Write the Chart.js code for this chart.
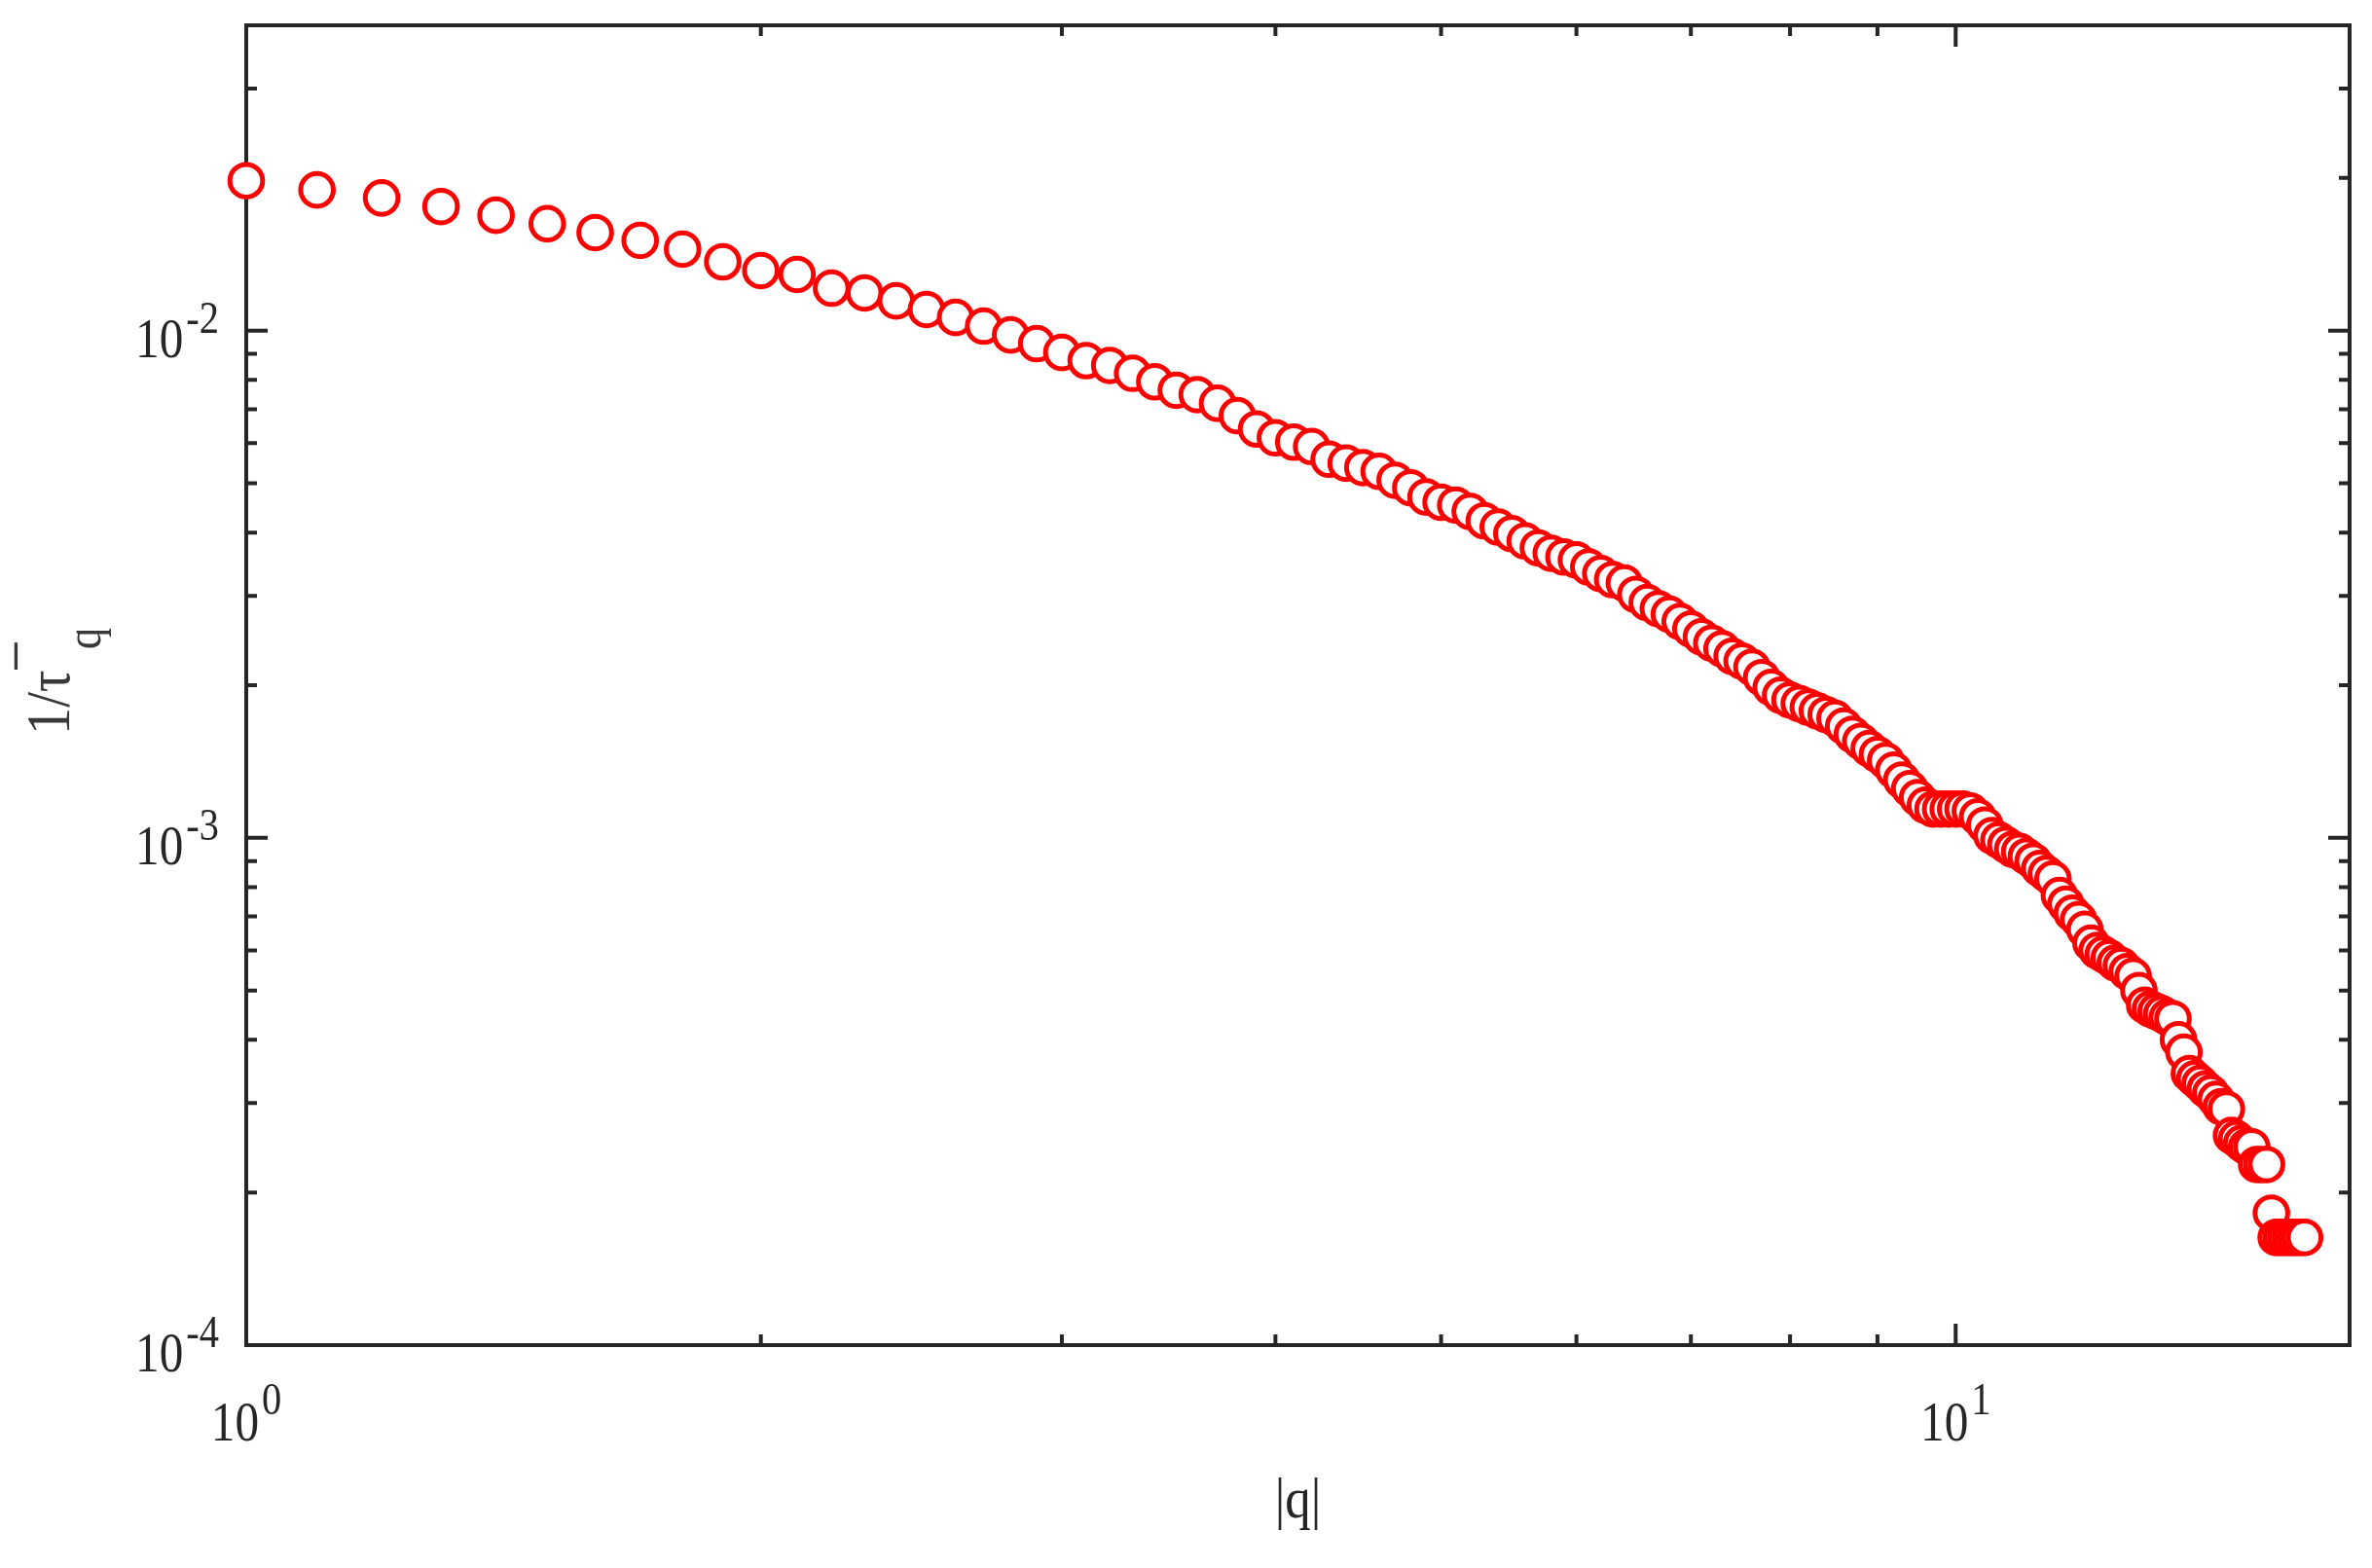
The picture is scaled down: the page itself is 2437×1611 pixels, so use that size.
<!DOCTYPE html>
<html>
<head>
<meta charset="utf-8">
<script src="https://cdn.jsdelivr.net/npm/chart.js@4.4.1/dist/chart.umd.min.js"></script>
<style>
  html, body { margin: 0; padding: 0; background: #ffffff; }
  #wrap { width: 2437px; height: 1611px; position: relative; }
</style>
</head>
<body>
<div id="wrap"><canvas id="chart"></canvas></div>
<script>
// |q| values
const qValues = [
  1.0, 1.1, 1.2, 1.3, 1.4, 1.5, 1.6, 1.7, 1.8, 1.9,
  2.0, 2.1, 2.2, 2.3, 2.4, 2.5, 2.6, 2.7, 2.8, 2.9,
  3.0, 3.1, 3.2, 3.3, 3.4, 3.5, 3.6, 3.7, 3.8, 3.9,
  4.0, 4.1, 4.2, 4.3, 4.4, 4.5, 4.6, 4.7, 4.8, 4.9,
  5.0, 5.1, 5.2, 5.3, 5.4, 5.5, 5.6, 5.7, 5.8, 5.9,
  6.0, 6.1, 6.2, 6.3, 6.4, 6.5, 6.6, 6.7, 6.8, 6.9,
  7.0, 7.1, 7.2, 7.3, 7.4, 7.5, 7.6, 7.7, 7.8, 7.9,
  8.0, 8.1, 8.2, 8.3, 8.4, 8.5, 8.6, 8.7, 8.8, 8.9,
  9.0, 9.1, 9.2, 9.3, 9.4, 9.5, 9.6, 9.7, 9.8, 9.9,
  10.0, 10.1, 10.2, 10.3, 10.4, 10.5, 10.6, 10.7, 10.8, 10.9,
  11.0, 11.1, 11.2, 11.3, 11.4, 11.5, 11.6, 11.7, 11.8, 11.9,
  12.0, 12.1, 12.2, 12.3, 12.4, 12.5, 12.6, 12.7, 12.8, 12.9,
  13.0, 13.1, 13.2, 13.3, 13.4, 13.5, 13.6, 13.7, 13.8, 13.9,
  14.0, 14.1, 14.2, 14.3, 14.4, 14.5, 14.6, 14.7, 14.8, 14.9,
  15.0, 15.1, 15.2, 15.3, 15.4, 15.5, 15.6, 15.7, 15.8, 15.9,
  16.0
]

// 1/tau values, one per |q|
const rateValues = [
  0.01975, 0.01895, 0.01827, 0.01757, 0.01689, 0.01625, 0.01561, 0.01507, 0.01448, 0.01367,
  0.01314, 0.01291, 0.01213, 0.01187, 0.01145, 0.01101, 0.01062, 0.01021, 0.00981, 0.00943,
  0.00906, 0.00873, 0.00854, 0.00824, 0.00793, 0.00763, 0.00748, 0.00719, 0.00680, 0.00640,
  0.00615, 0.00603, 0.00591, 0.00558, 0.00548, 0.00537, 0.00528, 0.00507, 0.00490, 0.00470,
  0.00459, 0.00453, 0.00440, 0.00422, 0.00410, 0.00398, 0.00385, 0.00373, 0.00364, 0.00358,
  0.00353, 0.00342, 0.00332, 0.00323, 0.00318, 0.00302, 0.00291, 0.00283, 0.00276, 0.00267,
  0.00258, 0.00249, 0.00242, 0.00236, 0.00228, 0.00223, 0.00217, 0.00207, 0.00198, 0.00191,
  0.00187, 0.00184, 0.00181, 0.00178, 0.00175, 0.00172, 0.00166, 0.00160, 0.00155, 0.00150,
  0.00146, 0.00142, 0.00136, 0.00130, 0.00125, 0.00120, 0.00116, 0.00114, 0.00114, 0.00114,
  0.00114, 0.00114, 0.00113, 0.00110, 0.00106, 0.00101, 0.00099, 0.00097, 0.00095, 0.00094,
  0.00092, 0.00090, 0.00087, 0.00085, 0.00083, 0.00077, 0.00074, 0.00071, 0.00069, 0.00066,
  0.00062, 0.00060, 0.00059, 0.00058, 0.000567, 0.00056, 0.000545, 0.000534, 0.00050, 0.000468,
  0.00046, 0.000455, 0.00045, 0.000443, 0.00044, 0.00040, 0.000378, 0.000343, 0.000335, 0.000328,
  0.00032, 0.000314, 0.000305, 0.000295, 0.000292, 0.000259, 0.000255, 0.00025, 0.000246, 0.000246,
  0.000227, 0.000227, 0.000227, 0.000182, 0.000163, 0.000163, 0.000163, 0.000163, 0.000163, 0.000163,
  0.000163
]

const xMajor = [1, 10]
const xMinor = [2, 3, 4, 5, 6, 7, 8, 9]
const xTickLabels = [['10', '0'], ['10', '1']]
const yMajor = [1e-4, 1e-3, 1e-2]
const yMinor = [2e-4, 3e-4, 4e-4, 5e-4, 6e-4, 7e-4, 8e-4, 9e-4,
                2e-3, 3e-3, 4e-3, 5e-3, 6e-3, 7e-3, 8e-3, 9e-3,
                2e-2, 3e-2, 4e-2]
const yTickLabels = [['10', '-4'], ['10', '-3'], ['10', '-2']]

const axisColor = '#262626'
const labelColor = '#383838'
const markerColor = '#FF0000'
const markerFill = '#FFFFFF'
const fontFamily = '"Liberation Serif", "Times New Roman", serif'
const squeeze = 0.88

const textWidth = (ctx, text, size) => {
  ctx.font = size + 'px ' + fontFamily
  return ctx.measureText(text).width * squeeze
}

const putText = (ctx, text, x, y, size) => {
  ctx.save()
  ctx.font = size + 'px ' + fontFamily
  ctx.textAlign = 'left'
  ctx.textBaseline = 'alphabetic'
  ctx.translate(x, y)
  ctx.scale(squeeze, 1)
  ctx.fillText(text, 0, 0)
  ctx.restore()
}

const drawAxes = (chart) => {
  const ctx = chart.ctx
  const area = chart.chartArea
  const xs = chart.scales.x
  const ys = chart.scales.y
  const major = 22
  const minor = 11

  ctx.save()
  ctx.strokeStyle = axisColor
  ctx.lineWidth = 4
  ctx.setLineDash([])
  ctx.strokeRect(area.left, area.top, area.right - area.left, area.bottom - area.top)

  // inward ticks on all four sides
  ctx.beginPath()
  xMajor.concat(xMinor).forEach(v => {
    const len = xMajor.includes(v) ? major : minor
    const px = xs.getPixelForValue(v)
    ctx.moveTo(px, area.bottom)
    ctx.lineTo(px, area.bottom - len)
    ctx.moveTo(px, area.top)
    ctx.lineTo(px, area.top + len)
  })
  yMajor.concat(yMinor).forEach(v => {
    const len = yMajor.includes(v) ? major : minor
    const py = ys.getPixelForValue(v)
    ctx.moveTo(area.left, py)
    ctx.lineTo(area.left + len, py)
    ctx.moveTo(area.right, py)
    ctx.lineTo(area.right - len, py)
  })
  ctx.stroke()

  // tick labels with superscripts
  ctx.fillStyle = axisColor
  const big = 56
  const small = 46
  const gap = 3
  xMajor.forEach((v, i) => {
    const [base, exp] = xTickLabels[i]
    const px = xs.getPixelForValue(v)
    const w1 = textWidth(ctx, base, big)
    const w2 = textWidth(ctx, exp, small)
    const start = px - (w1 + gap + w2) / 2
    const baseline = area.bottom + 98
    putText(ctx, base, start, baseline, big)
    putText(ctx, exp, start + w1 + gap, baseline - 27, small)
  })
  yMajor.forEach((v, i) => {
    const [base, exp] = yTickLabels[i]
    const py = ys.getPixelForValue(v)
    const w1 = textWidth(ctx, base, big)
    const w2 = textWidth(ctx, exp, small)
    const start = area.left - 28 - (w1 + gap + w2)
    const baseline = py + 27
    putText(ctx, base, start, baseline, big)
    putText(ctx, exp, start + w1 + gap, baseline - 25, small)
  })

  // x axis title
  const xt = '|q|'
  const xtw = textWidth(ctx, xt, 60)
  putText(ctx, xt, (area.left + area.right) / 2 - xtw / 2, area.bottom + 177, 60)

  // y axis title, rotated
  const cy = (area.top + area.bottom) / 2
  ctx.fillStyle = labelColor
  ctx.translate(71, cy + 51)
  ctx.rotate(-Math.PI / 2)
  putText(ctx, '1/τ', 0, 0, 64)
  putText(ctx, '−', 64, -32, 68)
  putText(ctx, 'q', 88, 32, 50)
  ctx.restore()
}

const points = qValues.map((q, i) => ({ x: q, y: rateValues[i] }))

new Chart(document.getElementById('chart'), {
  type: 'scatter',
  data: {
    datasets: [{
      label: '1/tau',
      data: points,
      pointStyle: 'circle',
      pointRadius: 16.8,
      pointBorderWidth: 5,
      pointBorderColor: markerColor,
      pointBackgroundColor: markerFill,
      showLine: false,
      clip: false
    }]
  },
  options: {
    responsive: true,
    maintainAspectRatio: false,
    animation: false,
    layout: {
      padding: { left: 253, top: 26, right: 23, bottom: 229 }
    },
    plugins: {
      legend: { display: false },
      tooltip: { enabled: false }
    },
    scales: {
      x: {
        type: 'logarithmic',
        display: false,
        min: 1,
        max: 17
      },
      y: {
        type: 'logarithmic',
        display: false,
        min: 1e-4,
        max: 0.04
      }
    }
  },
  plugins: [{ id: 'matlabAxes', beforeDatasetsDraw: drawAxes }]
})
</script>
</body>
</html>
